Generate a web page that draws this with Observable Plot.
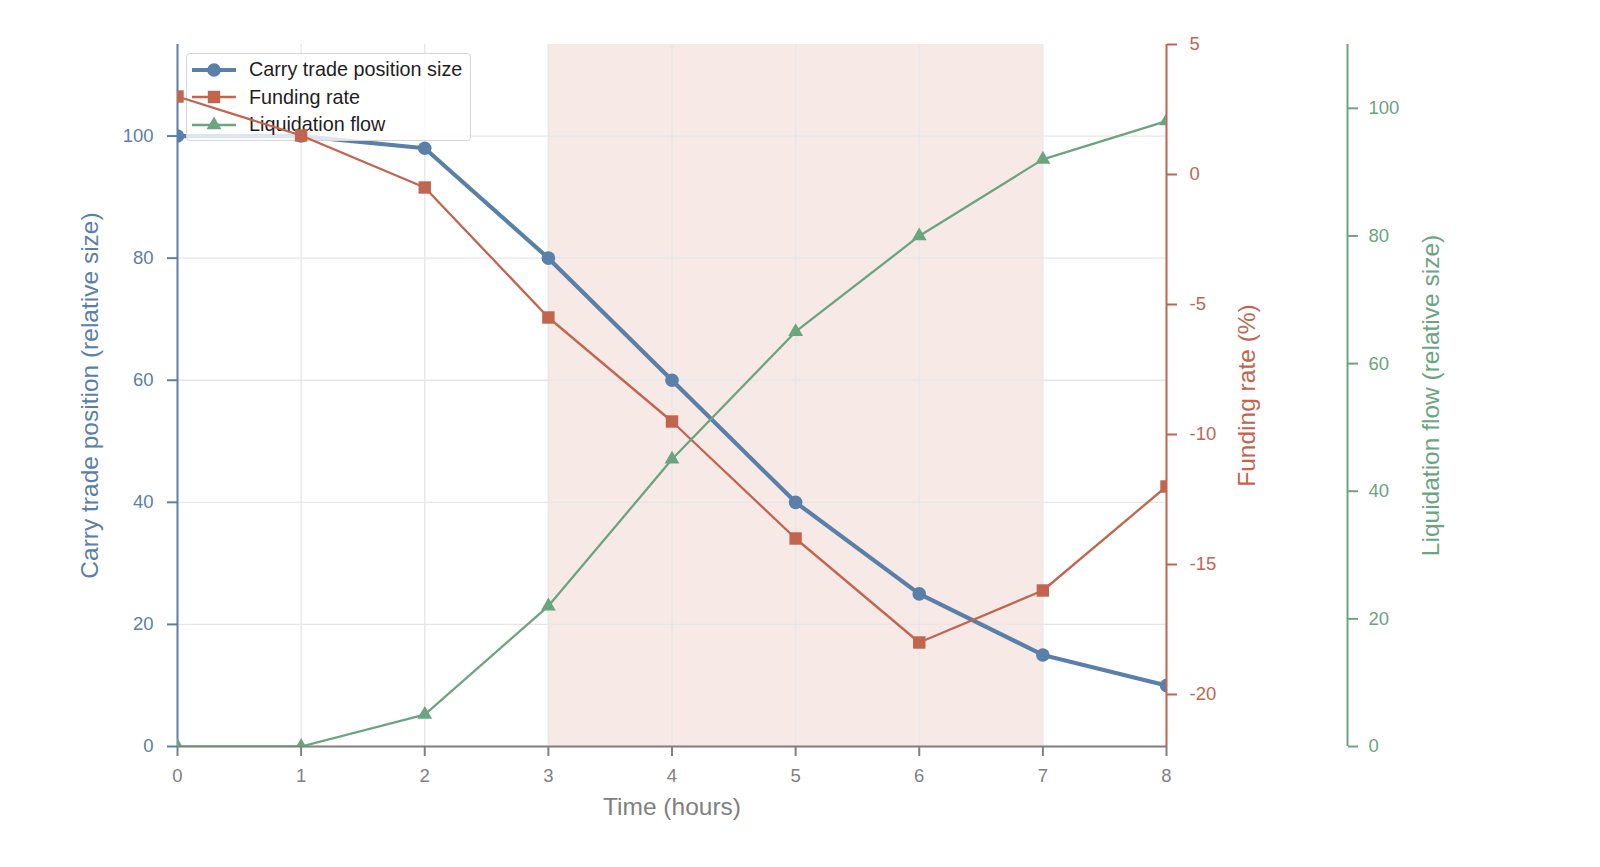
<!DOCTYPE html>
<html>
<head>
<meta charset="utf-8">
<script src="https://cdn.jsdelivr.net/npm/d3@7"></script>
<script src="https://cdn.jsdelivr.net/npm/@observablehq/plot@0.6"></script>
<style>
  html, body { margin: 0; padding: 0; background: #fff; }
  #wrap { position: relative; width: 1600px; height: 867px; font-family: "Liberation Sans", Arial, sans-serif; }
  #wrap > svg { position: absolute; left: 0; top: 0; }
  #legend { position: absolute; left: 186px; top: 53px; width: 285px; height: 88px;
    border: 1px solid #d4d4d4; border-radius: 4px; background: rgba(255,255,255,0.8); box-sizing: border-box; }
  .lrow { position: absolute; left: 0; height: 24px; display: flex; align-items: center; }
  .lrow svg { position: static; margin-left: 5px; }
  .lrow span { margin-left: 13px; font-size: 19.8px; color: #1e1e1e; white-space: nowrap; }
</style>
</head>
<body>
<div id="wrap"></div>
<script>
// ---- data ----
const hours = [0, 1, 2, 3, 4, 5, 6, 7, 8];
const carry = [100, 100, 98, 80, 60, 40, 25, 15, 10];
const funding = [3, 1.5, -0.5, -5.5, -9.5, -14, -18, -16, -12];
const liquidation = [0, 0, 5, 22, 45, 65, 80, 92, 98];
const seriesNames = ["Carry trade position size", "Funding rate", "Liquidation flow"];
const shadeWindow = [3, 7];
const xTicks = [0, 1, 2, 3, 4, 5, 6, 7, 8];
const carryTicks = [0, 20, 40, 60, 80, 100];
const fundingTicks = [-20, -15, -10, -5, 0, 5];
const liqTicks = [0, 20, 40, 60, 80, 100];
const axisTitles = ["Carry trade position (relative size)", "Funding rate (%)", "Liquidation flow (relative size)", "Time (hours)"];

// ---- styling ----
const BLUE = "#5a7fa8", RED = "#c1654f", GREEN = "#6aa57f", GRAY = "#808080", GRID = "#e6e6e8";
const FONT = "Liberation Sans, Arial, sans-serif";
const TITLE_SIZE = 24.5;
const W = 1600, H = 867;
const M = {marginLeft: 177, marginRight: 434, marginTop: 44, marginBottom: 121};
const base = {
  width: W, height: H, ...M,
  style: {background: "transparent", fontFamily: FONT, fontSize: "18.5px", overflow: "visible"}
};
const fmt = d => String(d);

const carryData = hours.map((h, i) => ({h, v: carry[i]}));
const fundData = hours.map((h, i) => ({h, v: funding[i]}));
const liqData = hours.map((h, i) => ({h, v: liquidation[i]}));

const wrap = document.getElementById("wrap");

// Layer 1: carry trade (left axis), shading, grid, x axis
const p1 = Plot.plot({
  ...base,
  x: {domain: [0, 8]},
  y: {domain: [0, 115]},
  marks: [
    Plot.rect([shadeWindow], {x1: d => d[0], x2: d => d[1], fill: RED, fillOpacity: 0.14}),
    Plot.gridX(xTicks, {stroke: GRID, strokeOpacity: 1, strokeWidth: 1.3}),
    Plot.gridY(carryTicks, {stroke: GRID, strokeOpacity: 1, strokeWidth: 1.3}),
    Plot.ruleY([0], {stroke: GRAY, strokeWidth: 2}),
    Plot.ruleX([0], {stroke: BLUE, strokeWidth: 2}),
    Plot.axisX(xTicks, {tickSize: 10, tickPadding: 12, color: GRAY, strokeWidth: 2, label: null, tickFormat: fmt}),
    Plot.axisY(carryTicks, {anchor: "left", tickSize: 10, tickPadding: 14, color: BLUE, strokeWidth: 2, label: null, tickFormat: fmt}),
    Plot.line(carryData, {x: "h", y: "v", stroke: BLUE, strokeWidth: 4.2, clip: true}),
    Plot.dot(carryData, {x: "h", y: "v", symbol: "circle", r: 6.8, fill: BLUE, clip: true}),
    Plot.text([axisTitles[0]], {frameAnchor: "left", textAnchor: "middle", dx: -87, rotate: -90, fill: BLUE, fontSize: TITLE_SIZE}),
    Plot.text([axisTitles[3]], {frameAnchor: "bottom", textAnchor: "middle", dy: 68, fill: GRAY, fontSize: TITLE_SIZE})
  ]
});
wrap.appendChild(p1);

// Legend
const legend = document.createElement("div");
legend.id = "legend";
const legendStyles = [
  {color: BLUE, width: 4.2, sym: d3.symbolCircle, size: Math.PI * 6.8 * 6.8},
  {color: RED, width: 2.3, sym: d3.symbolSquare, size: Math.PI * 7 * 7},
  {color: GREEN, width: 2.3, sym: d3.symbolTriangle, size: Math.PI * 5.5 * 5.5}
];
seriesNames.forEach((name, i) => {
  const s = legendStyles[i];
  const row = document.createElement("div");
  row.className = "lrow";
  row.style.top = (3.5 + i * 27.5) + "px";
  const path = d3.symbol(s.sym, s.size)();
  row.innerHTML = `<svg width="44" height="24" viewBox="0 0 44 24">
    <line x1="0" x2="44" y1="12" y2="12" stroke="${s.color}" stroke-width="${s.width}"/>
    <path d="${path}" transform="translate(22,12)" fill="${s.color}"/></svg><span>${name}</span>`;
  legend.appendChild(row);
});
wrap.appendChild(legend);

// Layer 2: funding rate (right axis)
const p2 = Plot.plot({
  ...base,
  x: {domain: [0, 8], axis: null},
  y: {domain: [-22, 5]},
  marks: [
    Plot.ruleX([8], {stroke: RED, strokeWidth: 2}),
    Plot.axisY(fundingTicks, {anchor: "right", tickSize: 10, tickPadding: 13, color: RED, strokeWidth: 2, label: null, tickFormat: fmt}),
    Plot.line(fundData, {x: "h", y: "v", stroke: RED, strokeWidth: 2.3, clip: true}),
    Plot.dot(fundData, {x: "h", y: "v", symbol: "square", r: 7, fill: RED, clip: true}),
    Plot.text([axisTitles[1]], {frameAnchor: "right", textAnchor: "middle", dx: 81, rotate: -90, fill: RED, fontSize: TITLE_SIZE})
  ]
});
wrap.appendChild(p2);

// Layer 3: liquidation flow (offset right axis)
const OFF = 181;
const p3 = Plot.plot({
  ...base,
  x: {domain: [0, 8], axis: null},
  y: {domain: [0, 110]},
  marks: [
    Plot.ruleX([8], {stroke: GREEN, strokeWidth: 2, dx: OFF}),
    Plot.axisY(liqTicks, {anchor: "right", dx: OFF, tickSize: 10, tickPadding: 11, color: GREEN, strokeWidth: 2, label: null, tickFormat: fmt}),
    Plot.line(liqData, {x: "h", y: "v", stroke: GREEN, strokeWidth: 2.3, clip: true}),
    Plot.dot(liqData, {x: "h", y: "v", symbol: "triangle", r: 5.5, fill: GREEN, clip: true}),
    Plot.text([axisTitles[2]], {frameAnchor: "right", textAnchor: "middle", dx: OFF + 84, rotate: -90, fill: GREEN, fontSize: TITLE_SIZE})
  ]
});
wrap.appendChild(p3);
</script>
</body>
</html>
